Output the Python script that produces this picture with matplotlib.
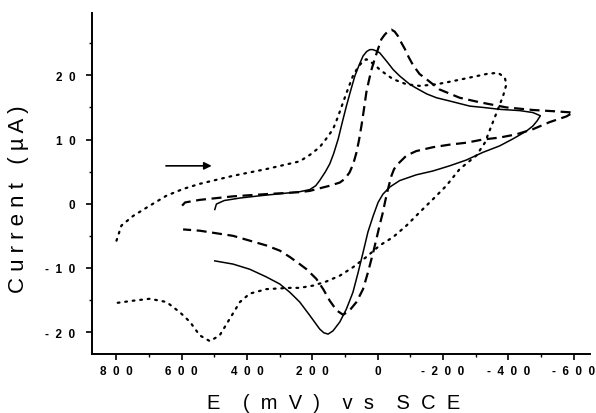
import matplotlib
matplotlib.use('Agg')
import matplotlib.pyplot as plt
import numpy as np
from matplotlib.ticker import MultipleLocator

plt.rcParams['font.family'] = ['Liberation Sans', 'DejaVu Sans']

# solid trace (E in mV, I in uA)
solid_E = [499, 494, 470, 420, 350, 290, 239, 208, 190, 178, 160, 147, 135, 121, 108, 96, 83, 70, 57, 45, 34, 24, 15, 5, -6,
           -27, -47, -67, -98, -118, -150, -180, -220, -282, -322, -373, -435, -475, -498,
           -488, -475, -455, -414, -373, -322, -271, -220, -169, -118, -67, -37, -16, -1, 14, 30, 45, 60, 76, 96, 116,
           137, 152, 165, 178, 208, 239, 269, 300, 341, 392, 443, 499]
solid_I = [-0.9, -0.05, 0.5, 0.9, 1.3, 1.6, 1.87, 2.2, 2.8, 3.6, 5.0, 6.2, 7.8, 10.1, 12.8, 15.2, 17.6, 19.9, 21.6, 23.0, 23.7, 24.0, 24.0, 23.8, 23.5,
           22.2, 20.9, 19.9, 18.6, 18.0, 17.1, 16.5, 16.0, 15.2, 15.0, 14.7, 14.5, 14.2, 13.7,
           12.9, 12.1, 11.3, 10.1, 9.0, 8.0, 6.8, 5.9, 5.1, 4.5, 3.6, 2.6, 1.5, 0.2, -1.9, -4.4, -7.6, -10.7, -13.8, -16.4, -18.4,
           -19.8, -20.3, -20.1, -19.5, -17.4, -15.3, -13.8, -12.5, -11.4, -10.2, -9.4, -8.9]

# dashed trace
dashed_E = [599, 590, 545, 443, 341, 239, 208, 178, 147, 116, 100, 86, 75, 65, 57, 50, 42, 35, 27, 19, 9, -1, -11, -21, -32,
            -42, -52, -62, -72, -83, -95, -108, -128, -149, -189, -251, -312, -394, -475, -540, -598,
            -578, -526, -475, -424, -373, -322, -271, -220, -169, -118, -88, -62, -50, -42, -35, -29, -22, -16, -8, -1,
            14, 30, 45, 65, 86, 106, 126, 147, 167, 188, 218, 239, 269, 300, 341, 443, 545, 596]
dashed_I = [-0.3, 0.2, 0.6, 1.15, 1.5, 1.8, 2.0, 2.4, 2.8, 3.3, 3.9, 4.9, 6.2, 8.0, 10.0, 12.1, 14.8, 17.3, 19.2, 20.9, 22.6, 24.1, 25.6, 26.3, 26.9,
            27.1, 26.8, 26.1, 25.1, 24.1, 22.8, 21.6, 20.2, 19.4, 17.8, 16.5, 15.8, 15.0, 14.6, 14.4, 14.2,
            13.6, 12.7, 11.6, 10.8, 10.3, 10.0, 9.5, 9.2, 8.8, 8.2, 7.5, 6.2, 5.4, 4.35, 3.0, 1.8, 0.2, -1.3, -2.9, -4.4,
            -7.6, -10.7, -13.3, -15.3, -16.6, -17.3, -16.6, -15.1, -13.3, -11.7, -10.2, -9.4, -8.3, -7.3, -6.5, -5.0, -4.2, -4.0]

# dotted trace
dotted_E = [800, 785, 749, 698, 647, 596, 545, 443, 341, 239, 208, 178, 158, 137, 122, 106, 91, 76, 60, 45, 35, 24, 9, -6,
            -27, -47, -88, -129, -180, -231, -282, -333, -368, -389, -394, -384, -368, -348, -328, -302,
            -251, -210, -169, -129, -88, -47, -6, 35, 76, 116, 157, 198, 239, 269, 341, 392, 422, 453, 484, 514,
            545, 575, 606, 647, 698, 749, 800]
dotted_I = [-5.75, -3.4, -1.9, -0.3, 1.25, 2.3, 3.1, 4.35, 5.4, 6.6, 7.6, 8.8, 10.1, 11.6, 13.5, 15.8, 17.9, 19.9, 21.3, 22.2, 22.5, 22.2, 21.6, 20.9,
            20.1, 19.4, 18.6, 18.35, 18.6, 19.1, 19.65, 20.2, 20.4, 19.65, 18.6, 16.8, 14.7, 12.1, 9.5, 7.5,
            5.4, 2.8, 0.7, -1.3, -3.4, -5.2, -6.5, -8.3, -9.9, -11.2, -12.1, -12.75, -13.1, -13.1, -13.3, -14.0, -15.3, -17.9, -20.5, -21.4,
            -20.5, -18.4, -16.9, -15.3, -14.8, -15.1, -15.45]

x_ticks = [800, 600, 400, 200, 0, -200, -400, -600]
x_labels = ['8  0  0', '6  0  0', '4  0  0', '2  0  0', '0', '-  2  0  0', '-  4  0  0', '-  6  0  0']
y_ticks = [-20, -10, 0, 10, 20]
y_labels = ['-  2  0', '-  1  0', '0', '1  0', '2  0']

fig = plt.figure(figsize=(5.96, 4.14), dpi=100)
ax = fig.add_axes([92 / 596, 1 - 355 / 414, 498 / 596, 341 / 414])

ax.plot(solid_E, solid_I, color='black', lw=1.1, ls='-')
ax.plot(dashed_E, dashed_I, color='black', lw=1.6, ls=(0, (4.5, 2.5)))
ax.plot(dotted_E, dotted_I, color='black', lw=1.6, ls=(0, (0.8, 2.6)), dash_capstyle='round')

# scan direction arrow
ax.annotate('', xy=(500, 5.9), xytext=(657, 5.9),
            arrowprops=dict(arrowstyle='-|>', color='black', lw=1.2, mutation_scale=11))

ax.set_xlim(875, -650)
ax.set_ylim(-23.4, 29.7)
ax.set_xticks(x_ticks)
ax.set_xticklabels(x_labels, fontweight='bold')
ax.set_yticks(y_ticks)
ax.set_yticklabels(y_labels, fontweight='bold')
ax.xaxis.set_minor_locator(MultipleLocator(100))
ax.yaxis.set_minor_locator(MultipleLocator(5))

for s in ['top', 'right']:
    ax.spines[s].set_visible(False)
for s in ['left', 'bottom']:
    ax.spines[s].set_linewidth(1.4)

ax.tick_params(which='major', direction='out', length=4, width=1.2, labelsize=8.5)
ax.tick_params(which='minor', direction='out', length=2.5, width=1.0)
ax.tick_params(axis='y', which='major', pad=8)
ax.tick_params(axis='x', which='major', pad=4)

ax.set_xlabel('E    (  m  V  )    v  s    S  C  E', fontsize=14.5)
ax.set_ylabel('C u r r e n t   ( µ A )', fontsize=16)
ax.xaxis.set_label_coords((334 - 92) / 498, (355 - 404) / 341)
ax.yaxis.set_label_coords((19 - 92) / 498, (355 - 199) / 341)
ax.xaxis.label.set_va('center')
ax.yaxis.label.set_va('center')

fig.savefig('out.png', dpi=100)
